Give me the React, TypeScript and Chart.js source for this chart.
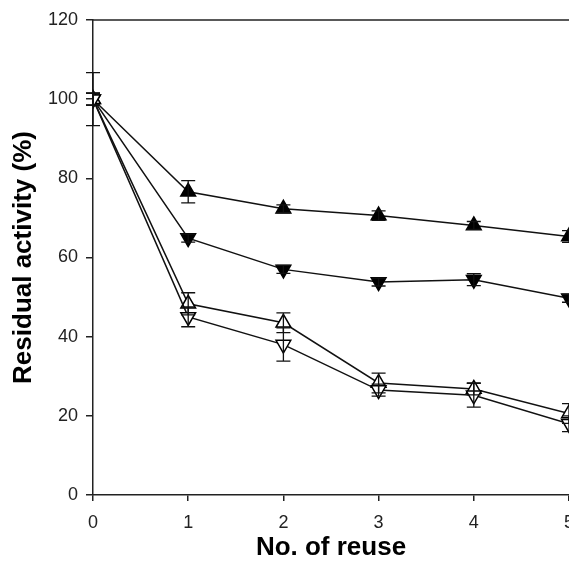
import React, { useEffect, useRef } from 'react';
import { Chart, registerables } from 'chart.js';
Chart.register(...registerables);

const reuse = [0, 1, 2, 3, 4, 5];
const filledUp = [100, 76.6, 72.3, 70.6, 68.1, 65.3];
const filledUpErr = [6.7, 2.8, 1.0, 1.2, 1.0, 1.5];
const filledDown = [100, 64.9, 57.0, 53.8, 54.4, 49.7];
const filledDownErr = [1.5, 1.0, 1.0, 1.0, 1.5, 1.0];
const openUp = [100, 48.3, 43.5, 28.3, 26.8, 20.6];
const openUpErr = [1.5, 2.8, 2.5, 2.5, 1.5, 2.5];
const openDown = [100, 45.0, 38.0, 26.5, 25.2, 18.0];
const openDownErr = [1.5, 2.5, 4.2, 1.5, 3.0, 2.0];
const yTickValues = [0, 20, 40, 60, 80, 100, 120];
const xTitle = 'No. of reuse';
const yTitle = 'Residual activity (%)';

const FONT = "'Liberation Sans', Arial, sans-serif";

const errorBarPlugin = {
  id: 'errorBars',
  afterDatasetsDraw(chart: any) {
    const ctx = chart.ctx;
    const xs = chart.scales.x;
    const ys = chart.scales.y;
    ctx.save();
    ctx.strokeStyle = '#111';
    ctx.lineWidth = 1.3;
    chart.data.datasets.forEach((ds: any) => {
      const errs: number[] = ds.errors || [];
      ds.data.forEach((pt: any, i: number) => {
        const e = errs[i];
        if (!e) return;
        const x = xs.getPixelForValue(pt.x);
        const y1 = ys.getPixelForValue(pt.y + e);
        const y2 = ys.getPixelForValue(pt.y - e);
        ctx.beginPath();
        ctx.moveTo(x, y1);
        ctx.lineTo(x, y2);
        ctx.moveTo(x - 7, y1);
        ctx.lineTo(x + 7, y1);
        ctx.moveTo(x - 7, y2);
        ctx.lineTo(x + 7, y2);
        ctx.stroke();
      });
    });
    ctx.restore();
  },
  afterDraw(chart: any) {
    const { ctx, chartArea } = chart;
    ctx.save();
    ctx.strokeStyle = '#222';
    ctx.lineWidth = 1.5;
    ctx.beginPath();
    ctx.moveTo(chartArea.left, chartArea.top);
    ctx.lineTo(chartArea.right + 60, chartArea.top);
    ctx.stroke();
    ctx.restore();
  },
};

function makeSeries(vals: number[], errs: number[], filled: boolean, down: boolean) {
  return {
    data: vals.map((v, i) => ({ x: reuse[i], y: v })),
    errors: errs,
    borderColor: '#111',
    borderWidth: 1.5,
    pointStyle: 'triangle',
    rotation: down ? 180 : 0,
    pointRadius: 8.5,
    pointBorderWidth: 1.5,
    pointBackgroundColor: filled ? '#000' : '#fff',
    pointBorderColor: '#000',
    showLine: true,
    tension: 0,
  };
}

export default function App() {
  const ref = useRef<HTMLCanvasElement>(null);
  useEffect(() => {
    if (!ref.current) return;
    const chart = new Chart(ref.current, {
      type: 'scatter',
      data: {
        datasets: [
          makeSeries(openDown, openDownErr, false, true),
          makeSeries(openUp, openUpErr, false, false),
          makeSeries(filledDown, filledDownErr, true, true),
          makeSeries(filledUp, filledUpErr, true, false),
        ] as any,
      },
      options: {
        animation: false,
        responsive: false,
        maintainAspectRatio: false,
        layout: { padding: { left: 0, top: 20, right: 51, bottom: 0 } },
        plugins: { legend: { display: false }, tooltip: { enabled: false } },
        scales: {
          x: {
            type: 'linear',
            min: 0,
            max: 5,
            afterFit(scale: any) { scale.height = 71; },
            border: { display: true, color: '#222', width: 1.5 },
            grid: { display: true, drawOnChartArea: false, drawTicks: true, tickLength: 6, color: '#222', lineWidth: 1.5 },
            ticks: { stepSize: 1, color: '#222', font: { family: FONT, size: 18 }, padding: 11, maxRotation: 0 },
            title: { display: true, text: xTitle, color: '#000', font: { family: FONT, size: 26, weight: 'bold' }, padding: { top: 0, bottom: 3 } },
          },
          y: {
            type: 'linear',
            min: 0,
            max: 120,
            afterFit(scale: any) { scale.width = 93; },
            afterBuildTicks(scale: any) { scale.ticks = yTickValues.map((v) => ({ value: v })); },
            border: { display: true, color: '#222', width: 1.5 },
            grid: { display: true, drawOnChartArea: false, drawTicks: true, tickLength: 7, color: '#222', lineWidth: 1.5 },
            ticks: { color: '#222', font: { family: FONT, size: 18 }, padding: 8 },
            title: { display: true, text: yTitle, color: '#000', font: { family: FONT, size: 26, weight: 'bold' }, padding: { top: 8, bottom: 0 } },
          },
        },
      } as any,
      plugins: [errorBarPlugin],
    });
    return () => chart.destroy();
  }, []);
  return (
    <div style={{ position: 'fixed', left: 0, top: 0, width: 569, height: 566, overflow: 'hidden', background: '#fff' }}>
      <canvas ref={ref} width={620} height={566} style={{ display: 'block' }} />
    </div>
  );
}
